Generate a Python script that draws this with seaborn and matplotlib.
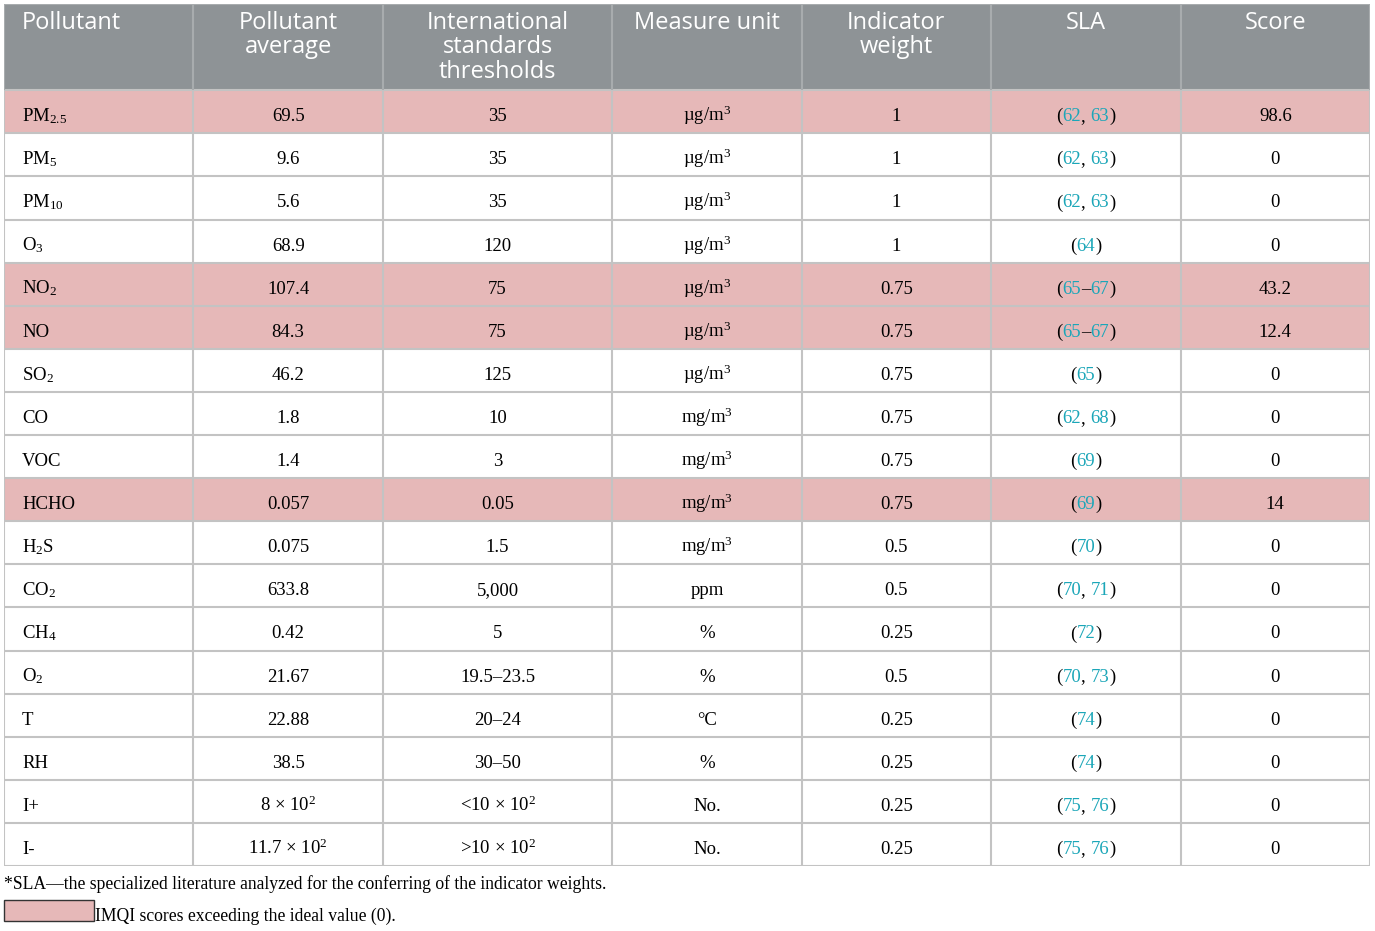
import re
import numpy as np
import seaborn as sns
import matplotlib.pyplot as plt
from matplotlib.colors import ListedColormap
from matplotlib.patches import Rectangle
from matplotlib.transforms import offset_copy

# data
headers = ["Pollutant", "Pollutant\naverage", "International\nstandards\nthresholds",
           "Measure unit", "Indicator\nweight", "SLA", "Score"]
pollutants = [r"PM$_{\mathrm{2.5}}$", r"PM$_{\mathrm{5}}$", r"PM$_{\mathrm{10}}$", r"O$_{\mathrm{3}}$",
              r"NO$_{\mathrm{2}}$", "NO", r"SO$_{\mathrm{2}}$", "CO", "VOC", "HCHO",
              r"H$_{\mathrm{2}}$S", r"CO$_{\mathrm{2}}$", r"CH$_{\mathrm{4}}$", r"O$_{\mathrm{2}}$",
              "T", "RH", "I+", "I-"]
averages = ["69.5", "9.6", "5.6", "68.9", "107.4", "84.3", "46.2", "1.8", "1.4", "0.057",
            "0.075", "633.8", "0.42", "21.67", "22.88", "38.5",
            r"8 × 10$^{\mathrm{2}}$", r"11.7 × 10$^{\mathrm{2}}$"]
thresholds = ["35", "35", "35", "120", "75", "75", "125", "10", "3", "0.05",
              "1.5", "5,000", "5", "19.5–23.5", "20–24", "30–50",
              r"<10 × 10$^{\mathrm{2}}$", r">10 × 10$^{\mathrm{2}}$"]
units = [r"µg/m$^{\mathrm{3}}$"] * 7 + [r"mg/m$^{\mathrm{3}}$"] * 4 + ["ppm", "%", "%", "°C", "%", "No.", "No."]
weights = [1, 1, 1, 1, 0.75, 0.75, 0.75, 0.75, 0.75, 0.75,
           0.5, 0.5, 0.25, 0.5, 0.25, 0.25, 0.25, 0.25]
sla = ["(62, 63)", "(62, 63)", "(62, 63)", "(64)", "(65–67)", "(65–67)", "(65)", "(62, 68)",
       "(69)", "(69)", "(70)", "(70, 71)", "(72)", "(70, 73)", "(74)", "(74)", "(75, 76)", "(75, 76)"]
scores = [98.6, 0, 0, 0, 43.2, 12.4, 0, 0, 0, 14, 0, 0, 0, 0, 0, 0, 0, 0]

GRAY = "#8e9396"
PINK = "#e6b8b8"
LINE = "#c3c3c3"
HEAD_LINE = "#a8acae"
TEAL = "#1ba6b8"
SERIF = "Liberation Serif"
SANS = "Open Sans"

plt.rcParams["mathtext.fontset"] = "custom"
plt.rcParams["mathtext.rm"] = SERIF
plt.rcParams["mathtext.it"] = SERIF + ":italic"

W, H = 1375, 931
fig = plt.figure(figsize=(W / 100, H / 100), dpi=100)
ax = fig.add_axes([4 / W, 1 - 866 / H, 1366 / W, 862 / H])

# column widths in units (layout)
col_units = [19, 19, 23, 19, 19, 19, 19]
edges = np.concatenate([[0], np.cumsum(col_units)])
centers = (edges[:-1] + edges[1:]) / 2
n_rows = len(pollutants)

# 2 header sub rows (2 = gray), body rows pink when score > 0
kind = np.concatenate([[2, 2], (np.array(scores) > 0).astype(int)])
grid = np.repeat(kind[:, None], edges[-1], axis=1)
sns.heatmap(grid, cmap=ListedColormap(["white", PINK, GRAY]), vmin=-0.5, vmax=2.5,
            cbar=False, xticklabels=False, yticklabels=False, linewidths=0, ax=ax)

# grid lines
ax.hlines(np.arange(2, n_rows + 3), 0, edges[-1], color=LINE, lw=1.5)
ax.vlines(edges, 2, n_rows + 2, color=LINE, lw=1.5)
ax.vlines(edges, 0, 2, color=HEAD_LINE, lw=1.5)
ax.hlines(0, 0, edges[-1], color=HEAD_LINE, lw=1.5)

# header text
HEAD_FS = 17
head_tr = offset_copy(ax.transData, fig=fig, y=-7, units="dots")
for j, h in enumerate(headers):
    if j == 0:
        ax.text(edges[0], 0, h, transform=offset_copy(ax.transData, fig=fig, x=18, y=-7, units="dots"),
                ha="left", va="top", color="white", fontsize=HEAD_FS, family=SANS)
    else:
        ax.text(centers[j], 0, h, transform=head_tr, ha="center", va="top", multialignment="center",
                color="white", fontsize=HEAD_FS, family=SANS, linespacing=1.02)

BODY_FS = 13.5
BASE = -9.5
renderer = fig.canvas.get_renderer()


def text_width(s):
    t = ax.text(0, 0, s, fontsize=BODY_FS, family=SERIF)
    w = t.get_window_extent(renderer).width
    t.remove()
    return w


def draw_sla(xc, y, s):
    tokens = re.findall(r"\d+|[^\d]+", s)
    total = text_width(s)
    prefix = ""
    for tok in tokens:
        prefix += tok
        start = -total / 2 + text_width(prefix) - text_width(tok)
        tr = offset_copy(ax.transData, fig=fig, x=start, y=BASE, units="dots")
        ax.text(xc, y, tok, transform=tr, ha="left", va="baseline", fontsize=BODY_FS,
                family=SERIF, color=TEAL if tok.isdigit() else "black")


body_tr = offset_copy(ax.transData, fig=fig, y=BASE, units="dots")
first_tr = offset_copy(ax.transData, fig=fig, x=18, y=BASE, units="dots")
for i in range(n_rows):
    y = i + 2.5
    ax.text(edges[0], y, pollutants[i], transform=first_tr, ha="left", va="baseline",
            fontsize=BODY_FS, family=SERIF)
    cells = [averages[i], thresholds[i], units[i], f"{weights[i]:g}", None, f"{scores[i]:g}"]
    for j, c in enumerate(cells, start=1):
        if c is None:
            draw_sla(centers[j], y, sla[i])
        else:
            ax.text(centers[j], y, c, transform=body_tr, ha="center", va="baseline",
                    fontsize=BODY_FS, family=SERIF)

ax.set_xlim(0, edges[-1])
ax.set_ylim(n_rows + 2, 0)
ax.axis("off")

# footnotes
FOOT_FS = 12.7
fig.text(4 / W, 1 - 889 / H, "*SLA—the specialized literature analyzed for the conferring of the indicator weights.",
         ha="left", va="baseline", fontsize=FOOT_FS, family=SERIF)
fig.add_artist(Rectangle((4 / W, 1 - 921 / H), 90 / W, 21 / H, transform=fig.transFigure,
                         facecolor=PINK, edgecolor="#333333", lw=1))
fig.text(95 / W, 1 - 921 / H, "IMQI scores exceeding the ideal value (0).",
         ha="left", va="baseline", fontsize=FOOT_FS, family=SERIF)

fig.savefig("out.png", dpi=100, facecolor="white")
